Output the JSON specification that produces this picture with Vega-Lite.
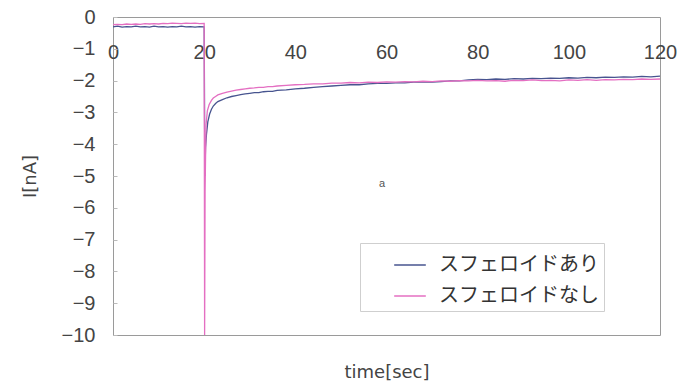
{
  "$schema": "https://vega.github.io/schema/vega-lite/v6.json",
  "width": 547,
  "height": 318,
  "autosize": "none",
  "padding": {"left": 113, "top": 17, "right": 18, "bottom": 49},
  "background": "white",
  "config": {
    "view": {"stroke": "#9a9a9a", "strokeWidth": 1},
    "font": "Liberation Sans"
  },
  "datasets": {
    "series": [
      {"t":0,"I":-0.31,"s":"スフェロイドあり"},{"t":1,"I":-0.29,"s":"スフェロイドあり"},{"t":2,"I":-0.32,"s":"スフェロイドあり"},{"t":3,"I":-0.3,"s":"スフェロイドあり"},{"t":4,"I":-0.31,"s":"スフェロイドあり"},{"t":5,"I":-0.29,"s":"スフェロイドあり"},{"t":6,"I":-0.31,"s":"スフェロイドあり"},{"t":7,"I":-0.3,"s":"スフェロイドあり"},{"t":8,"I":-0.32,"s":"スフェロイドあり"},{"t":9,"I":-0.29,"s":"スフェロイドあり"},{"t":10,"I":-0.31,"s":"スフェロイドあり"},{"t":11,"I":-0.3,"s":"スフェロイドあり"},{"t":12,"I":-0.32,"s":"スフェロイドあり"},{"t":13,"I":-0.3,"s":"スフェロイドあり"},{"t":14,"I":-0.31,"s":"スフェロイドあり"},{"t":15,"I":-0.29,"s":"スフェロイドあり"},{"t":16,"I":-0.31,"s":"スフェロイドあり"},{"t":17,"I":-0.3,"s":"スフェロイドあり"},{"t":18,"I":-0.32,"s":"スフェロイドあり"},{"t":19,"I":-0.3,"s":"スフェロイドあり"},{"t":20,"I":-0.31,"s":"スフェロイドあり"},
      {"t":20.15,"I":-5.0,"s":"スフェロイドあり"},{"t":20.3,"I":-4.1,"s":"スフェロイドあり"},{"t":20.5,"I":-3.7,"s":"スフェロイドあり"},{"t":20.8,"I":-3.3,"s":"スフェロイドあり"},{"t":21.2,"I":-3.05,"s":"スフェロイドあり"},{"t":21.6,"I":-2.9,"s":"スフェロイドあり"},{"t":22,"I":-2.8,"s":"スフェロイドあり"},{"t":22.5,"I":-2.72,"s":"スフェロイドあり"},{"t":23,"I":-2.66,"s":"スフェロイドあり"},{"t":24,"I":-2.6,"s":"スフェロイドあり"},{"t":25,"I":-2.54,"s":"スフェロイドあり"},{"t":26,"I":-2.5,"s":"スフェロイドあり"},{"t":27,"I":-2.47,"s":"スフェロイドあり"},{"t":28,"I":-2.44,"s":"スフェロイドあり"},{"t":29,"I":-2.42,"s":"スフェロイドあり"},{"t":30,"I":-2.4,"s":"スフェロイドあり"},{"t":31,"I":-2.38,"s":"スフェロイドあり"},{"t":32,"I":-2.38,"s":"スフェロイドあり"},{"t":33,"I":-2.35,"s":"スフェロイドあり"},{"t":34,"I":-2.34,"s":"スフェロイドあり"},{"t":35,"I":-2.34,"s":"スフェロイドあり"},{"t":36,"I":-2.31,"s":"スフェロイドあり"},{"t":38,"I":-2.29,"s":"スフェロイドあり"},{"t":40,"I":-2.26,"s":"スフェロイドあり"},{"t":42,"I":-2.24,"s":"スフェロイドあり"},{"t":44,"I":-2.21,"s":"スフェロイドあり"},{"t":46,"I":-2.19,"s":"スフェロイドあり"},{"t":48,"I":-2.17,"s":"スフェロイドあり"},{"t":50,"I":-2.15,"s":"スフェロイドあり"},{"t":52,"I":-2.13,"s":"スフェロイドあり"},{"t":54,"I":-2.13,"s":"スフェロイドあり"},{"t":56,"I":-2.1,"s":"スフェロイドあり"},{"t":58,"I":-2.09,"s":"スフェロイドあり"},{"t":60,"I":-2.09,"s":"スフェロイドあり"},{"t":62,"I":-2.07,"s":"スフェロイドあり"},{"t":64,"I":-2.07,"s":"スフェロイドあり"},{"t":66,"I":-2.05,"s":"スフェロイドあり"},{"t":68,"I":-2.04,"s":"スフェロイドあり"},{"t":70,"I":-2.05,"s":"スフェロイドあり"},{"t":72,"I":-2.03,"s":"スフェロイドあり"},{"t":74,"I":-2.01,"s":"スフェロイドあり"},{"t":76,"I":-2.01,"s":"スフェロイドあり"},{"t":78,"I":-1.98,"s":"スフェロイドあり"},{"t":80,"I":-1.96,"s":"スフェロイドあり"},{"t":82,"I":-1.97,"s":"スフェロイドあり"},{"t":84,"I":-1.95,"s":"スフェロイドあり"},{"t":86,"I":-1.96,"s":"スフェロイドあり"},{"t":88,"I":-1.94,"s":"スフェロイドあり"},{"t":90,"I":-1.95,"s":"スフェロイドあり"},{"t":92,"I":-1.93,"s":"スフェロイドあり"},{"t":94,"I":-1.94,"s":"スフェロイドあり"},{"t":96,"I":-1.92,"s":"スフェロイドあり"},{"t":98,"I":-1.93,"s":"スフェロイドあり"},{"t":100,"I":-1.91,"s":"スフェロイドあり"},{"t":102,"I":-1.92,"s":"スフェロイドあり"},{"t":104,"I":-1.9,"s":"スフェロイドあり"},{"t":106,"I":-1.91,"s":"スフェロイドあり"},{"t":108,"I":-1.89,"s":"スフェロイドあり"},{"t":110,"I":-1.9,"s":"スフェロイドあり"},{"t":112,"I":-1.88,"s":"スフェロイドあり"},{"t":114,"I":-1.89,"s":"スフェロイドあり"},{"t":116,"I":-1.87,"s":"スフェロイドあり"},{"t":118,"I":-1.88,"s":"スフェロイドあり"},{"t":120,"I":-1.86,"s":"スフェロイドあり"},
      {"t":0,"I":-0.24,"s":"スフェロイドなし"},{"t":1,"I":-0.23,"s":"スフェロイドなし"},{"t":2,"I":-0.24,"s":"スフェロイドなし"},{"t":3,"I":-0.22,"s":"スフェロイドなし"},{"t":4,"I":-0.23,"s":"スフェロイドなし"},{"t":5,"I":-0.22,"s":"スフェロイドなし"},{"t":6,"I":-0.23,"s":"スフェロイドなし"},{"t":7,"I":-0.21,"s":"スフェロイドなし"},{"t":8,"I":-0.22,"s":"スフェロイドなし"},{"t":9,"I":-0.21,"s":"スフェロイドなし"},{"t":10,"I":-0.22,"s":"スフェロイドなし"},{"t":11,"I":-0.2,"s":"スフェロイドなし"},{"t":12,"I":-0.21,"s":"スフェロイドなし"},{"t":13,"I":-0.19,"s":"スフェロイドなし"},{"t":14,"I":-0.2,"s":"スフェロイドなし"},{"t":15,"I":-0.21,"s":"スフェロイドなし"},{"t":16,"I":-0.19,"s":"スフェロイドなし"},{"t":17,"I":-0.2,"s":"スフェロイドなし"},{"t":18,"I":-0.19,"s":"スフェロイドなし"},{"t":19,"I":-0.21,"s":"スフェロイドなし"},{"t":20,"I":-0.2,"s":"スフェロイドなし"},
      {"t":20.1,"I":-10,"s":"スフェロイドなし"},{"t":20.2,"I":-5.5,"s":"スフェロイドなし"},{"t":20.4,"I":-3.4,"s":"スフェロイドなし"},{"t":20.7,"I":-2.95,"s":"スフェロイドなし"},{"t":21.1,"I":-2.75,"s":"スフェロイドなし"},{"t":21.6,"I":-2.62,"s":"スフェロイドなし"},{"t":22,"I":-2.55,"s":"スフェロイドなし"},{"t":22.5,"I":-2.5,"s":"スフェロイドなし"},{"t":23,"I":-2.45,"s":"スフェロイドなし"},{"t":24,"I":-2.4,"s":"スフェロイドなし"},{"t":25,"I":-2.36,"s":"スフェロイドなし"},{"t":26,"I":-2.33,"s":"スフェロイドなし"},{"t":27,"I":-2.3,"s":"スフェロイドなし"},{"t":28,"I":-2.28,"s":"スフェロイドなし"},{"t":29,"I":-2.26,"s":"スフェロイドなし"},{"t":30,"I":-2.24,"s":"スフェロイドなし"},{"t":31,"I":-2.23,"s":"スフェロイドなし"},{"t":32,"I":-2.21,"s":"スフェロイドなし"},{"t":33,"I":-2.21,"s":"スフェロイドなし"},{"t":34,"I":-2.19,"s":"スフェロイドなし"},{"t":35,"I":-2.19,"s":"スフェロイドなし"},{"t":36,"I":-2.17,"s":"スフェロイドなし"},{"t":38,"I":-2.15,"s":"スフェロイドなし"},{"t":40,"I":-2.13,"s":"スフェロイドなし"},{"t":42,"I":-2.12,"s":"スフェロイドなし"},{"t":44,"I":-2.1,"s":"スフェロイドなし"},{"t":46,"I":-2.1,"s":"スフェロイドなし"},{"t":48,"I":-2.08,"s":"スフェロイドなし"},{"t":50,"I":-2.08,"s":"スフェロイドなし"},{"t":52,"I":-2.06,"s":"スフェロイドなし"},{"t":54,"I":-2.07,"s":"スフェロイドなし"},{"t":56,"I":-2.05,"s":"スフェロイドなし"},{"t":58,"I":-2.06,"s":"スフェロイドなし"},{"t":60,"I":-2.04,"s":"スフェロイドなし"},{"t":62,"I":-2.05,"s":"スフェロイドなし"},{"t":64,"I":-2.03,"s":"スフェロイドなし"},{"t":66,"I":-2.04,"s":"スフェロイドなし"},{"t":68,"I":-2.02,"s":"スフェロイドなし"},{"t":70,"I":-2.03,"s":"スフェロイドなし"},{"t":72,"I":-2.01,"s":"スフェロイドなし"},{"t":74,"I":-2.02,"s":"スフェロイドなし"},{"t":76,"I":-2.0,"s":"スフェロイドなし"},{"t":78,"I":-2.01,"s":"スフェロイドなし"},{"t":80,"I":-1.99,"s":"スフェロイドなし"},{"t":82,"I":-2.01,"s":"スフェロイドなし"},{"t":84,"I":-2.0,"s":"スフェロイドなし"},{"t":86,"I":-2.02,"s":"スフェロイドなし"},{"t":88,"I":-1.99,"s":"スフェロイドなし"},{"t":90,"I":-2.0,"s":"スフェロイドなし"},{"t":92,"I":-1.98,"s":"スフェロイドなし"},{"t":94,"I":-2.0,"s":"スフェロイドなし"},{"t":96,"I":-1.99,"s":"スフェロイドなし"},{"t":98,"I":-2.01,"s":"スフェロイドなし"},{"t":100,"I":-1.98,"s":"スフェロイドなし"},{"t":102,"I":-1.99,"s":"スフェロイドなし"},{"t":104,"I":-1.97,"s":"スフェロイドなし"},{"t":106,"I":-1.99,"s":"スフェロイドなし"},{"t":108,"I":-1.97,"s":"スフェロイドなし"},{"t":110,"I":-1.98,"s":"スフェロイドなし"},{"t":112,"I":-1.96,"s":"スフェロイドなし"},{"t":114,"I":-1.97,"s":"スフェロイドなし"},{"t":116,"I":-1.95,"s":"スフェロイドなし"},{"t":118,"I":-1.96,"s":"スフェロイドなし"},{"t":120,"I":-1.95,"s":"スフェロイドなし"}
    ],
    "note": [{"t": 59, "I": -5.25, "label": "a"}]
  },
  "encoding": {
    "x": {
      "field": "t", "type": "quantitative",
      "scale": {"domain": [0, 120], "nice": false, "zero": false},
      "axis": {
        "title": "time[sec]",
        "values": [0, 20, 40, 60, 80, 100, 120],
        "grid": false, "domain": false, "ticks": false,
        "labelPadding": -293,
        "labelFontSize": 20, "labelColor": "#444", "labelFont": "Liberation Sans",
        "labelFlush": false, "labelOverlap": false,
        "titleFontSize": 18, "titleColor": "#444", "titleFont": "DejaVu Sans", "titleFontWeight": "normal",
        "titleY": 37, "titleBaseline": "middle"
      }
    },
    "y": {
      "field": "I", "type": "quantitative",
      "scale": {"domain": [-10, 0], "nice": false, "zero": false},
      "axis": {
        "title": "I[nA]",
        "values": [0, -1, -2, -3, -4, -5, -6, -7, -8, -9, -10],
        "grid": false, "domain": false,
        "ticks": true, "tickSize": -4, "tickColor": "#bbb",
        "labelPadding": 22,
        "labelFontSize": 20, "labelColor": "#444", "labelFont": "Liberation Sans",
        "labelExpr": "replace(datum.label, '-', '−')",
        "labelFlush": false, "labelOverlap": false,
        "titleFontSize": 18, "titleColor": "#444", "titleFont": "DejaVu Sans", "titleFontWeight": "normal",
        "titleX": -83, "titleY": 159, "titleAngle": -90, "titleBaseline": "middle"
      }
    }
  },
  "layer": [
    {
      "data": {"name": "series"},
      "mark": {"type": "line", "strokeWidth": 1.3, "interpolate": "linear"},
      "encoding": {
        "color": {
          "field": "s", "type": "nominal",
          "scale": {"domain": ["スフェロイドあり", "スフェロイドなし"], "range": ["#47548f", "#e46fc2"]},
          "legend": {
            "title": null,
            "orient": "none", "legendX": 247, "legendY": 226,
            "direction": "vertical",
            "strokeColor": "#cfcfcf", "fillColor": "white",
            "padding": 5,
            "symbolType": "stroke", "symbolSize": 1000, "symbolStrokeWidth": 1.5,
            "symbolOffset": 28,
            "labelFont": "Noto Sans CJK JP", "labelFontSize": 20, "labelColor": "#333",
            "labelOffset": 12, "rowPadding": 4,
            "labelLimit": 300
          }
        }
      }
    },
    {
      "data": {"name": "note"},
      "mark": {"type": "text", "fontSize": 11, "color": "#555", "font": "Liberation Sans"},
      "encoding": {
        "text": {"field": "label"}
      }
    }
  ]
}
